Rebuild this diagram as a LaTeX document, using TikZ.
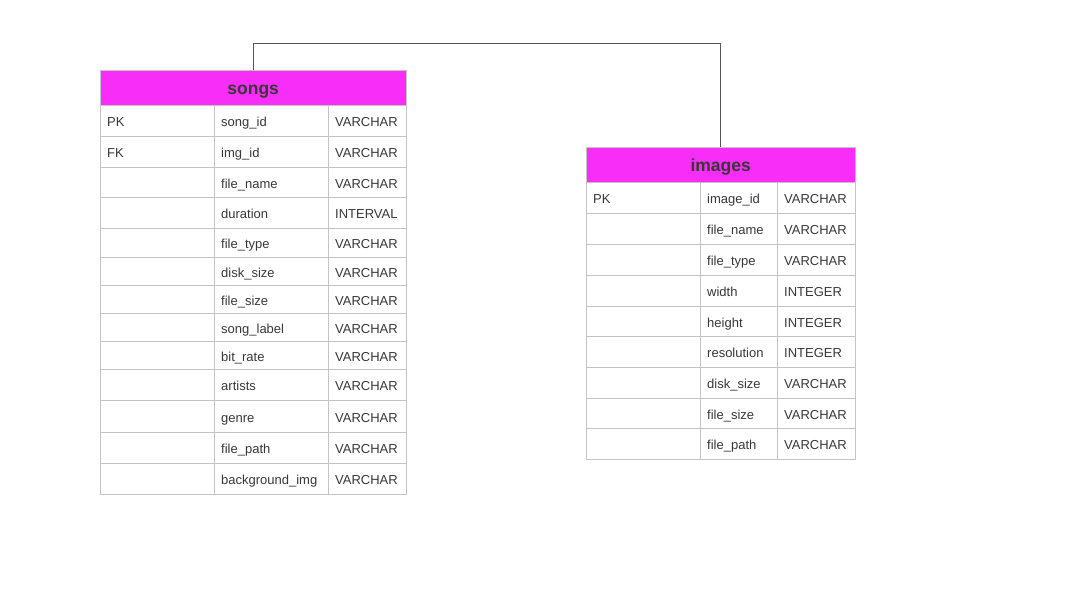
\documentclass[tikz,border=0pt]{standalone}
\usepackage{fontspec}
\setmainfont{Liberation Sans}
\definecolor{headfill}{HTML}{F82EF8}
\definecolor{gridline}{HTML}{C4C4C4}
\definecolor{inktext}{HTML}{383838}
\definecolor{linkline}{HTML}{555555}
\tikzset{
	header/.style={draw=gridline, fill=headfill, anchor=north west, minimum height=35pt, inner sep=0pt,
			text=inktext, font=\fontsize{17.5}{20}\selectfont\bfseries, text height=13pt, text depth=0pt},
	cellbox/.style={draw=gridline, line width=1pt},
	celltext/.style={anchor=base west, inner sep=0pt, text=inktext, font=\fontsize{13}{15}\selectfont},
	link/.style={draw=linkline, line width=1pt}
}
\begin{document}
\begin{tikzpicture}[x=1pt, y=-1pt]
	\useasboundingbox[fill=white] (0,0) rectangle (1076,590);
	\node[header, minimum width=306pt] (songs) at (100,70) {songs};
	\foreach \top/\bot/\key/\field/\type [count = \row] in {105/136/PK/song\_id/VARCHAR, 136/167/FK/img\_id/VARCHAR,
			167/197/{}/file\_name/VARCHAR, 197/228/{}/duration/INTERVAL, 228/257/{}/file\_type/VARCHAR,
			257/285/{}/disk\_size/VARCHAR, 285/313/{}/file\_size/VARCHAR, 313/341/{}/song\_label/VARCHAR,
			341/369/{}/bit\_rate/VARCHAR, 369/400/{}/artists/VARCHAR, 400/432/{}/genre/VARCHAR,
			432/463/{}/file\_path/VARCHAR, 463/494/{}/background\_img/VARCHAR}{
			\draw[cellbox] (100, \top) rectangle (214, \bot);
			\draw[cellbox] (214, \top) rectangle (328, \bot);
			\draw[cellbox] (328, \top) rectangle (406, \bot);
			\node[celltext] (songs-key-\row) at (107, {(\top + \bot)/2 + 6}) {\key};
			\node[celltext] (songs-field-\row) at (221, {(\top + \bot)/2 + 6}) {\field};
			\node[celltext] (songs-type-\row) at (335, {(\top + \bot)/2 + 6}) {\type};
		}
	\node[header, minimum width=269pt] (images) at (586,147) {images};
	\foreach \top/\bot/\key/\field/\type [count = \row] in {182/213/PK/image\_id/VARCHAR, 213/244/{}/file\_name/VARCHAR,
			244/275/{}/file\_type/VARCHAR, 275/306/{}/width/INTEGER, 306/336/{}/height/INTEGER,
			336/367/{}/resolution/INTEGER, 367/398/{}/disk\_size/VARCHAR, 398/428/{}/file\_size/VARCHAR,
			428/459/{}/file\_path/VARCHAR}{
			\draw[cellbox] (586, \top) rectangle (700, \bot);
			\draw[cellbox] (700, \top) rectangle (777, \bot);
			\draw[cellbox] (777, \top) rectangle (855, \bot);
			\node[celltext] (images-key-\row) at (593, {(\top + \bot)/2 + 6}) {\key};
			\node[celltext] (images-field-\row) at (707, {(\top + \bot)/2 + 6}) {\field};
			\node[celltext] (images-type-\row) at (784, {(\top + \bot)/2 + 6}) {\type};
		}
	\draw[link] (songs.north) -- ++(0,-27) -| (images.north);
\end{tikzpicture}
\end{document}
